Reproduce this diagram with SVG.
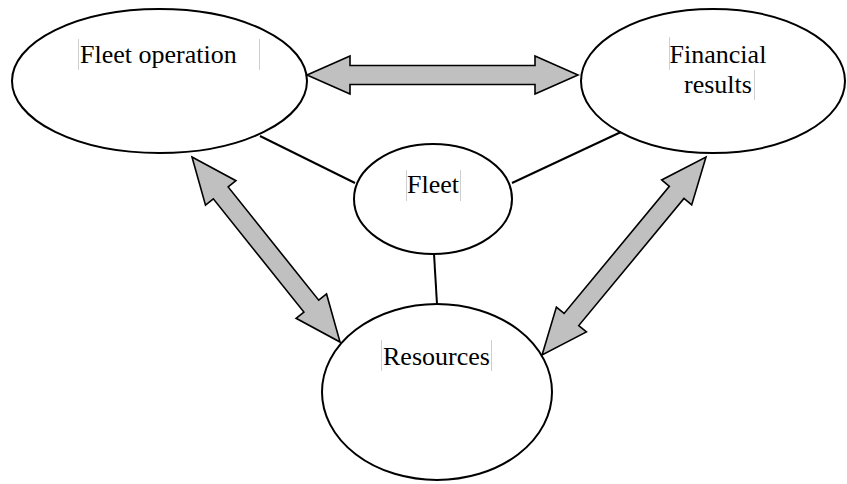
<svg xmlns="http://www.w3.org/2000/svg" width="847" height="484" viewBox="0 0 847 484">
<style>
.node{fill:#fff;stroke:#000;stroke-width:2}
.lbl{font-family:'Liberation Serif','Times New Roman',serif;font-size:26px;fill:#000}
.bar{stroke:#cfcfcf;stroke-width:1}
.link{stroke:#000;stroke-width:2;fill:none}
.arr{fill:#c0c0c0;stroke:#000;stroke-width:1.6;stroke-linejoin:miter}
</style>
<rect width="847" height="484" fill="#fff"/>
<g id="fleet-operation">
<ellipse class="node" cx="159.5" cy="81" rx="147.5" ry="72"/>
<line class="bar" x1="78.5" y1="39" x2="78.5" y2="70"/>
<line class="bar" x1="259.5" y1="39" x2="259.5" y2="70"/>
<text class="lbl" x="80" y="63">Fleet operation</text>
</g>
<g id="financial-results">
<ellipse class="node" cx="713" cy="81" rx="132" ry="72"/>
<line class="bar" x1="669.5" y1="37" x2="669.5" y2="70"/>
<line class="bar" x1="754.5" y1="70" x2="754.5" y2="100"/>
<text class="lbl" x="718" y="63" text-anchor="middle">Financial</text>
<text class="lbl" x="718" y="93" text-anchor="middle">results</text>
</g>
<g id="fleet">
<ellipse class="node" cx="433" cy="199" rx="79" ry="55"/>
<line class="bar" x1="406.5" y1="170" x2="406.5" y2="201"/>
<line class="bar" x1="460.5" y1="170" x2="460.5" y2="201"/>
<text class="lbl" x="407" y="193">Fleet</text>
</g>
<g id="resources">
<ellipse class="node" cx="437" cy="392" rx="115" ry="88"/>
<line class="bar" x1="381.5" y1="340" x2="381.5" y2="371"/>
<line class="bar" x1="491.5" y1="340" x2="491.5" y2="371"/>
<text class="lbl" x="383" y="365">Resources</text>
</g>
<g id="connectors">
<line class="link" x1="260" y1="136" x2="355" y2="183"/>
<line class="link" x1="512" y1="183" x2="621" y2="132"/>
<line class="link" x1="434" y1="254" x2="437" y2="304"/>
<g transform="translate(307,75)">
<polygon class="arr" points="0,0 43,-19 43,-9.5 228,-9.5 228,-19 271,0 228,19 228,9.5 43,9.5 43,19"/>
</g>
<g transform="translate(192,157) rotate(51.34)">
<polygon class="arr" points="0,0 46,-19.5 46,-9.5 191,-9.5 191,-19.5 237,0 191,19.5 191,9.5 46,9.5 46,19.5"/>
</g>
<g transform="translate(706,157) rotate(129.63)">
<polygon class="arr" points="0,0 46,-19.5 46,-9.5 211,-9.5 211,-19.5 257,0 211,19.5 211,9.5 46,9.5 46,19.5"/>
</g>
</g>
</svg>
